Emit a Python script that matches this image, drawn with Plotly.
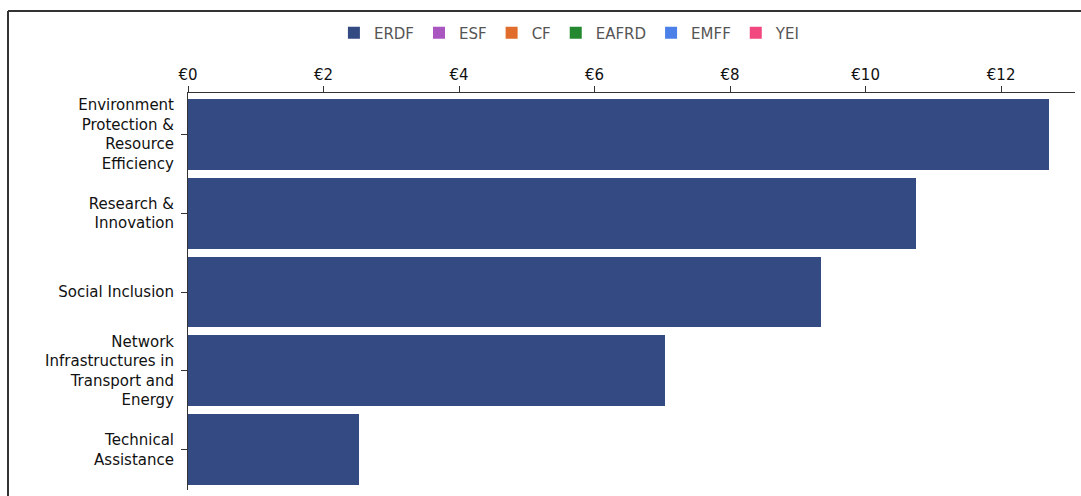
import plotly.graph_objects as go

# Funding by thematic objective (billions of euro), stacked by fund
categories = [
    "Environment<br>Protection &<br>Resource<br>Efficiency",
    "Research &<br>Innovation",
    "Social Inclusion",
    "Network<br>Infrastructures in<br>Transport and<br>Energy",
    "Technical<br>Assistance",
]
funds = ["ERDF", "ESF", "CF", "EAFRD", "EMFF", "YEI"]
fund_colors = ["#344a82", "#a956c1", "#e06d2b", "#23882f", "#4a80e8", "#f0487f"]
erdf = [12.71, 10.75, 9.34, 7.04, 2.52]
esf = [0, 0, 0, 0, 0]
cf = [0, 0, 0, 0, 0]
eafrd = [0, 0, 0, 0, 0]
emff = [0, 0, 0, 0, 0]
yei = [0, 0, 0, 0, 0]
fund_values = [erdf, esf, cf, eafrd, emff, yei]
x_ticks = [0, 2, 4, 6, 8, 10, 12]

W, H = 1081, 496
FONT = "DejaVu Sans, Verdana, sans-serif"

fig = go.Figure()
for name, color, vals in zip(funds, fund_colors, fund_values):
    fig.add_trace(go.Bar(
        y=categories, x=vals, name=name, orientation="h",
        marker=dict(color=color, line=dict(width=0)),
    ))

fig.update_layout(
    width=W, height=H,
    barmode="stack", bargap=0.1,
    paper_bgcolor="white", plot_bgcolor="white",
    margin=dict(l=188, r=6, t=93, b=6),
    font=dict(family=FONT, size=15, color="#222"),
    legend=dict(
        orientation="h", x=0.43, xanchor="center",
        y=1 - 33 / H, yref="container", yanchor="middle",
        bgcolor="rgba(0,0,0,0)",
        font=dict(family=FONT, size=15, color="#555"),
        itemwidth=30, traceorder="normal",
        itemclick=False,
    ),
    xaxis=dict(
        side="top", range=[0, 13.09], tickvals=x_ticks,
        ticktext=[f"€{v}" for v in x_ticks],
        showgrid=False, zeroline=False,
        showline=True, linecolor="#333", linewidth=1,
        ticks="outside", ticklen=6, tickcolor="#333",
        tickfont=dict(family=FONT, size=15, color="#111"),
        fixedrange=True,
    ),
    yaxis=dict(
        range=[4.513, -0.526], showgrid=False, zeroline=False,
        showline=True, linecolor="#333", linewidth=1,
        ticks="outside", ticklen=6, tickcolor="#333",
        ticklabelstandoff=4,
        tickfont=dict(family=FONT, size=15, color="#111"),
        fixedrange=True,
    ),
    shapes=[
        dict(type="line", xref="paper", yref="paper",
             x0=-180 / 887, x1=1.1, y0=1 + 82 / 397, y1=1 + 82 / 397,
             line=dict(color="#333", width=2)),
        dict(type="line", xref="paper", yref="paper",
             x0=-180 / 887, x1=-180 / 887, y0=-0.1, y1=1 + 82 / 397,
             line=dict(color="#333", width=2)),
    ],
)

fig.write_html("out.html")
